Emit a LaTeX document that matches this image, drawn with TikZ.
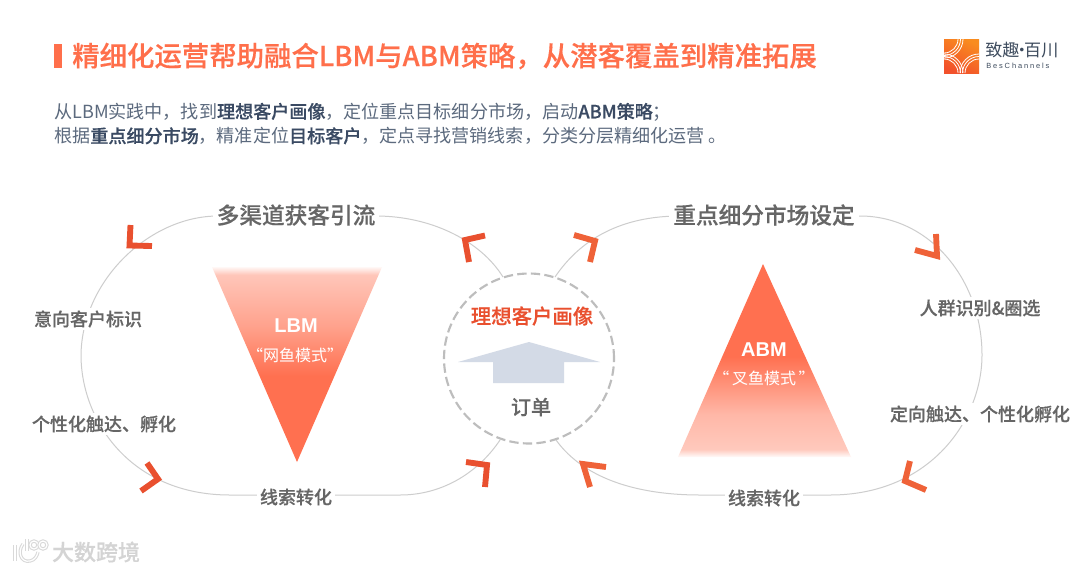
\documentclass[tikz,border=0pt]{standalone}
\usepackage{fontspec}
\setmainfont{Noto Sans CJK SC}[BoldFont={Noto Sans CJK SC Medium},BoldFeatures={FakeBold=0.35}]
\newfontfamily\logolatin{Liberation Sans}[LetterSpace=25]
\newfontfamily\trilatin{Liberation Sans}
\usetikzlibrary{calc}
\definecolor{titleorange}{HTML}{FF6F4B}
\definecolor{bodyblue}{HTML}{5C6A7E}
\definecolor{darkblue}{HTML}{3A4A63}
\definecolor{labelgray}{HTML}{666666}
\definecolor{trackgray}{HTML}{CDCDCD}
\definecolor{ringgray}{HTML}{BDBDBD}
\definecolor{chevred}{HTML}{E9502F}
\definecolor{chevorange}{HTML}{EF6238}
\definecolor{upblue}{HTML}{D3DAE6}
\definecolor{triorange}{HTML}{FF7050}
\definecolor{logotxt}{HTML}{3E4C5E}
\definecolor{logolow}{HTML}{F2512B}
\definecolor{logohigh}{HTML}{F98C1F}
\pgfdeclareverticalshading{lbmfade}{100bp}{
 color(0bp)=(triorange); color(47bp)=(triorange);
 color(60bp)=(triorange!65!white); color(73bp)=(triorange!40!white); color(75bp)=(triorange!5!white); color(100bp)=(white)}
\pgfdeclareverticalshading{abmfade}{100bp}{
 color(0bp)=(white); color(25bp)=(triorange!3!white); color(27bp)=(triorange!38!white); color(36bp)=(triorange!50!white);
 color(51bp)=(triorange); color(100bp)=(triorange)}
\pgfdeclareverticalshading{logofade}{100bp}{
 color(0bp)=(logolow); color(25bp)=(logolow); color(75bp)=(logohigh); color(100bp)=(logohigh)}
\tikzset{
 track/.style={draw=trackgray,line width=0.75pt},
 chev/.style={line width=4.4pt,miter limit=10,line join=miter,line cap=butt},
 steplabel/.style={fill=white,inner sep=2pt,text=labelgray,font=\bfseries\fontsize{13.5pt}{15pt}\selectfont},
 headlabel/.style={fill=white,inner sep=3pt,text=labelgray,font=\bfseries\fontsize{17pt}{19pt}\selectfont},
 trilabel/.style={text=white,font=\trilatin\bfseries\fontsize{15pt}{16pt}\selectfont},
 trisub/.style={text=white,font=\fontsize{12pt}{14pt}\selectfont},
 para/.style={anchor=west,inner sep=0pt,text=bodyblue,font=\fontsize{13.55pt}{16pt}\selectfont},
 wmark/.style={draw=black!15,line width=0.8pt,double=white,double distance=0.9pt},
}
\begin{document}
\begin{tikzpicture}[x=0.75pt,y=-0.75pt]
\useasboundingbox (0,0) rectangle (1080,572);
\fill[white] (0,0) rectangle (1080,572);
% title
\fill[titleorange] (54,44) rectangle (62,68);
\node[anchor=west,inner sep=0pt,text=titleorange,font=\bfseries\fontsize{20.55pt}{24pt}\selectfont] (title) at (72,56) {精细化运营帮助融合LBM与ABM策略，从潜客覆盖到精准拓展};
\node[para] (p1) at (54,112) {从LBM实践中，找到\textcolor{darkblue}{\bfseries 理想客户画像}，定位重点目标细分市场，启动\textcolor{darkblue}{\bfseries ABM策略}；};
\node[para] (p2) at (54,136) {根据\textcolor{darkblue}{\bfseries 重点细分市场}，精准定位\textcolor{darkblue}{\bfseries 目标客户}，定点寻找营销线索，分类分层精细化运营 。};
% logo
\shade[shading=logofade,shading angle=-25] (944,39) rectangle (979,73);
\begin{scope}
\clip (944,39) rectangle (979,73);
\foreach \r in {14,16.5,19}{
 \draw[white,line width=0.6pt] (944,39) ++(\r,0) arc[start angle=0,end angle=-90,radius=\r*0.75pt];
 \draw[white,line width=0.6pt] (944,73) ++(\r,0) arc[start angle=0,end angle=90,radius=\r*0.75pt];
 \draw[white,line width=0.6pt] (979,73) ++(-\r,0) arc[start angle=180,end angle=90,radius=\r*0.75pt];
}
\end{scope}
\node[anchor=west,inner sep=0pt,text=logotxt,font=\fontsize{12.8pt}{15pt}\selectfont] (logoname) at (985,50) {致趣\kern-.36em·\kern-.36em百川};
\node[anchor=west,inner sep=0pt,text=logotxt,font=\logolatin\fontsize{5.6pt}{7pt}\selectfont] (logosub) at (986,66) {BesChannels};
% ring and centre
\node[circle,draw=ringgray,line width=1.6pt,dash pattern=on 7pt off 3.2pt,minimum size=127.5pt,inner sep=0pt] (ring) at (529,358.5) {};
% track anchors on the ring
\coordinate (lt) at (503,277);
\coordinate (rt) at (555,277);
\coordinate (lb) at (500,440);
\coordinate (rb) at (556,440);
% tracks
\draw[track] (lt) .. controls (480,240) and (430,216) .. (376,216) -- (218,216)
 .. controls (150,216) and (82,280) .. (81,355)
 .. controls (81,420) and (130,495) .. (230,495) -- (400,495)
 .. controls (445,495) and (480,470) .. (lb);
\draw[track] (rt) .. controls (580,240) and (620,216) .. (680,216) -- (860,216)
 .. controls (930,216) and (982,280) .. (982,355)
 .. controls (982,420) and (930,495) .. (830,495) -- (700,495)
 .. controls (640,495) and (585,480) .. (rb);
% chevrons
\draw[chev,chevred] (130.5,225) -- (129.5,245.5) -- (152,246);
\draw[chev,chevred] (485,235.5) -- (465,240) -- (469,262);
\draw[chev,chevorange] (574,235) -- (595,241) -- (590,262);
\draw[chev,chevorange] (936,234) -- (937,256) -- (915,250);
\draw[chev,chevorange] (910,461) -- (905,481) -- (926,490);
\draw[chev,chevred] (147,463) -- (158,479) -- (141,491);
\draw[chev,chevred] (466,462) -- (487,465) -- (485,487);
\draw[chev,chevorange] (606,467) -- (583,464) -- (590,487);
% triangles
\shade[shading=lbmfade] (212,267) -- (382,267) -- (297,462) -- cycle;
\shade[shading=abmfade] (763,264) -- (851,457) -- (678,457) -- cycle;
% up arrow
\fill[upblue] (529,342) -- (600,362) -- (564,362) -- (564,383) -- (493,383) -- (493,362) -- (458,362) -- cycle;
% labels
\node[headlabel] (h1) at (296,215) {多渠道获客引流};
\node[headlabel] (h2) at (764,215) {重点细分市场设定};
\node[steplabel] (s1) at (88,319) {意向客户标识};
\node[steplabel] (s2) at (104,424) {个性化触达、孵化};
\node[steplabel] (s3) at (296,497) {线索转化};
\node[steplabel] (s4) at (980,308) {人群识别\&圈选};
\node[steplabel] (s5) at (980,414) {定向触达、个性化孵化};
\node[steplabel] (s6) at (764,498) {线索转化};
\node[trilabel] (lbm) at (296,326) {LBM};
\node[trisub] (lbms) at (295,355) {“网鱼模式”};
\node[trilabel] (abm) at (764,350) {ABM};
\node[trisub] (abms) at (764,378) {“\,叉鱼模式\,”};
\node[text=chevred,inner sep=0pt,font=\bfseries\fontsize{15.3pt}{17pt}\selectfont] (ideal) at (532,316) {理想客户画像};
\node[text=labelgray,inner sep=0pt,font=\bfseries\fontsize{15pt}{17pt}\selectfont] (order) at (531,407) {订单};
% watermark
\draw[wmark] (15,545) -- (15,561);
\draw[wmark] (23,544) .. controls (17,552) and (21,563) .. (30,561) .. controls (35,560) and (37,556) .. (38,552);
\draw[wmark] (27,539) -- (27,551);
\draw[wmark] (34,545) circle[radius=3pt];
\draw[wmark] (43,545) circle[radius=3pt];
\node[text=black!17,inner sep=0pt,font=\bfseries\fontsize{16.5pt}{18pt}\selectfont] (mark) at (96,552) {大数跨境};
\end{tikzpicture}
\end{document}
